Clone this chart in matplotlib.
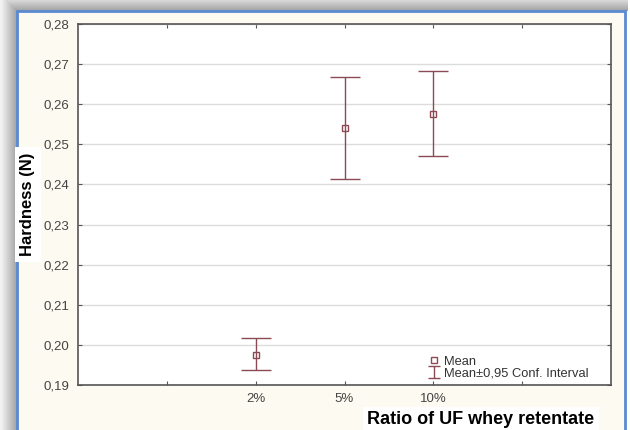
import matplotlib
matplotlib.use("Agg")
import matplotlib.pyplot as plt
from matplotlib.patches import Rectangle
from matplotlib.lines import Line2D
from matplotlib.path import Path
from matplotlib.ticker import FuncFormatter, MultipleLocator
import numpy as np

categories = ["2%", "5%", "10%"]
means = [0.1975, 0.2541, 0.2576]
ci_upper = [0.2018, 0.2669, 0.2683]
ci_lower = [0.1937, 0.2414, 0.2472]
cat_positions = [2, 3, 4]

plt.rcParams['font.family'] = ['Liberation Sans', 'DejaVu Sans']

W, H = 630, 430
fig = plt.figure(figsize=(W / 100, H / 100), dpi=100)
fig.patch.set_facecolor("white")

def fx(px):
    return px / W

def fy(py):
    return 1 - py / H

# background with shadow
bg_ax = fig.add_axes([0, 0, 1, 1], zorder=-10)
bg_ax.set_axis_off()
yy, xx = np.mgrid[0:H, 0:W]
dx = np.clip(17 - xx, 0, None)
dy = np.clip(11 - yy, 0, None)
d = np.maximum(dx, dy).astype(float)
shade = np.where(d > 0, 0.62 + 0.33 * np.clip(d / 16.0, 0, 1), 1.0)
shade = np.where(xx > 627, 1.0, shade)
img = np.dstack([shade, shade, shade])
bg_ax.imshow(img, extent=[0, W, H, 0], aspect='auto', interpolation='bilinear')
bg_ax.add_patch(Rectangle((17, 11), 608, 440, facecolor="#fdfaf1", edgecolor="#5a8ad0", linewidth=2.0))
bg_ax.set_xlim(0, W)
bg_ax.set_ylim(H, 0)

ax = fig.add_axes([fx(78), fy(385), fx(611 - 78), fy(24) - fy(385)])
ax.set_facecolor("white")

col = "#8c4a55"
yerr = [np.array(means) - np.array(ci_lower), np.array(ci_upper) - np.array(means)]
ax.errorbar(cat_positions, means, yerr=yerr, fmt='s', ms=5, mfc='none', mec=col, mew=1.0,
            ecolor=col, elinewidth=1.0, capsize=11, capthick=1.0, color=col, zorder=3)

ax.set_xlim(0, 6)
ax.set_ylim(0.19, 0.28)
ax.yaxis.set_major_locator(MultipleLocator(0.01))
ax.yaxis.set_major_formatter(FuncFormatter(lambda v, p: f"{v:.2f}".replace('.', ',')))
ax.set_xticks([1, 2, 3, 4, 5])
ax.set_xticklabels(["", categories[0], categories[1], categories[2], ""])
ax.grid(axis='y', color="#dcdcdc", linewidth=1.0, zorder=0)
ax.set_axisbelow(True)
ax.tick_params(axis='both', direction='in', length=3, color="#555555", labelsize=9.5,
               labelcolor="#444444", top=True, right=True, pad=6)
for s in ax.spines.values():
    s.set_color("#555555")
    s.set_linewidth(1.2)

ax.set_ylabel("Hardness (N)", fontsize=12, fontweight='bold',
              bbox=dict(facecolor='white', edgecolor='none', pad=4))
ax.yaxis.set_label_coords(-0.08, 0.5)
ax.set_xlabel("Ratio of UF whey retentate", fontsize=13, fontweight='bold',
              bbox=dict(facecolor='white', edgecolor='none', pad=3))
ax.xaxis.set_label_coords(0.756, -0.072)

ibeam = Path([(-1, -1), (1, -1), (0, -1), (0, 1), (-1, 1), (1, 1)],
             [Path.MOVETO, Path.LINETO, Path.MOVETO, Path.LINETO, Path.MOVETO, Path.LINETO])
h_mean = Line2D([], [], marker='s', ms=5, mfc='none', mec=col, mew=1.0, linestyle='none')
h_ci = Line2D([], [], marker=ibeam, ms=9, mfc='none', mec=col, mew=1.0, linestyle='none')
leg = ax.legend([h_mean, h_ci], ["Mean", "Mean\u00b10,95 Conf. Interval"], loc='lower left',
                bbox_to_anchor=(0.635, -0.018), frameon=False, fontsize=9.3, handlelength=0.9,
                handletextpad=0.3, labelspacing=0.0)
for t in leg.get_texts():
    t.set_color("#333333")

fig.savefig("out.png", dpi=100)
